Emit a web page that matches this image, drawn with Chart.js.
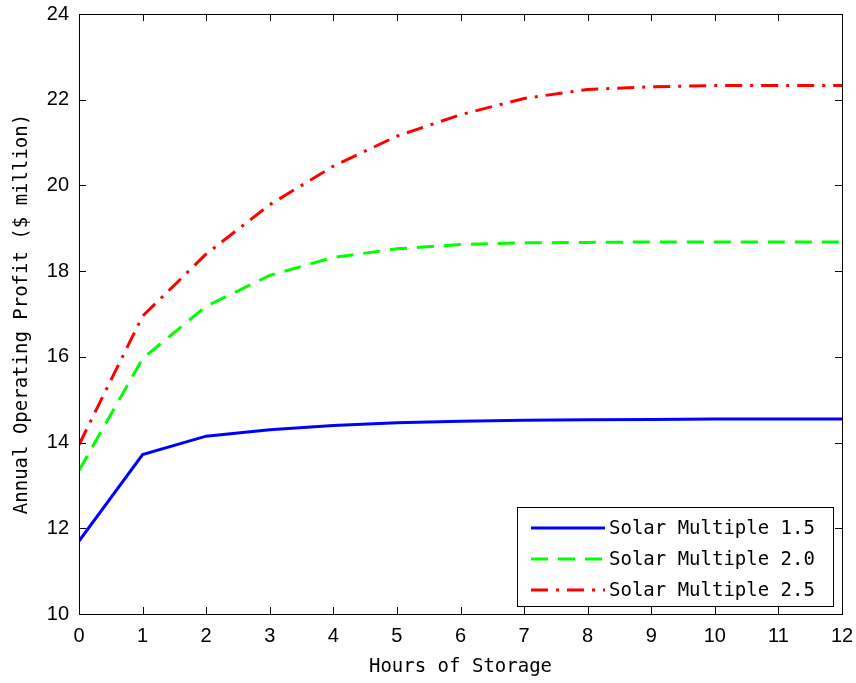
<!DOCTYPE html>
<html>
<head>
<meta charset="utf-8">
<script src="https://cdn.jsdelivr.net/npm/chart.js@4"></script>
<style>
  html, body { margin: 0; padding: 0; background: #fff; }
  canvas { display: block; }
</style>
</head>
<body>
<canvas id="chart" width="856" height="683"></canvas>
<script>
// data
const hours = [0, 1, 2, 3, 4, 5, 6, 7, 8, 9, 10, 11, 12];
const sm15 = [11.7, 13.72, 14.15, 14.3, 14.4, 14.46, 14.5, 14.52, 14.53, 14.54, 14.55, 14.55, 14.55];
const sm20 = [13.35, 15.96, 17.18, 17.9, 18.32, 18.52, 18.62, 18.66, 18.67, 18.68, 18.68, 18.68, 18.68];
const sm25 = [13.95, 16.95, 18.4, 19.55, 20.45, 21.15, 21.65, 22.03, 22.24, 22.3, 22.33, 22.33, 22.33];
const seriesNames = ["Solar Multiple 1.5", "Solar Multiple 2.0", "Solar Multiple 2.5"];
const yTicks = [10, 12, 14, 16, 18, 20, 22, 24];

const monoFont = "'DejaVu Sans Mono', 'Liberation Mono', monospace";
const tickFont = "'Liberation Sans', Arial, sans-serif";

const toPoints = arr => arr.map((v, i) => ({ x: hours[i], y: v }));

// box around the plot with inward ticks, and the boxed legend
const matlabFrame = {
    id: "matlabFrame",
    afterDatasetsDraw(chart) {
        const { ctx, chartArea: a, scales } = chart;
        ctx.save();
        ctx.strokeStyle = "#000";
        ctx.lineWidth = 1;
        ctx.strokeRect(a.left + 0.5, a.top + 0.5, a.right - a.left, a.bottom - a.top);
        const tl = 7;
        ctx.beginPath();
        hours.forEach(h => {
            const x = Math.round(scales.x.getPixelForValue(h)) + 0.5;
            ctx.moveTo(x, a.bottom); ctx.lineTo(x, a.bottom - tl);
            ctx.moveTo(x, a.top); ctx.lineTo(x, a.top + tl);
        });
        yTicks.forEach(t => {
            const y = Math.round(scales.y.getPixelForValue(t)) + 0.5;
            ctx.moveTo(a.left, y); ctx.lineTo(a.left + tl, y);
            ctx.moveTo(a.right, y); ctx.lineTo(a.right - tl, y);
        });
        ctx.stroke();

        // legend
        const bx = 517, by = 507, bw = 316, bh = 99;
        ctx.fillStyle = "#fff";
        ctx.fillRect(bx, by, bw, bh);
        ctx.strokeRect(bx + 0.5, by + 0.5, bw, bh);
        ctx.font = "19px " + monoFont;
        ctx.textBaseline = "middle";
        chart.data.datasets.forEach((ds, i) => {
            const y = by + 21 + i * 31;
            ctx.save();
            ctx.strokeStyle = ds.borderColor;
            ctx.lineWidth = ds.borderWidth;
            ctx.setLineDash(ds.borderDash || []);
            ctx.beginPath();
            ctx.moveTo(531, y); ctx.lineTo(605, y);
            ctx.stroke();
            ctx.restore();
            ctx.fillStyle = "#000";
            ctx.fillText(ds.label, 609, y + 1);
        });
        ctx.restore();
    }
};

new Chart(document.getElementById("chart"), {
    type: "line",
    data: {
        datasets: [
            { label: seriesNames[0], data: toPoints(sm15), borderColor: "#0000ff", borderWidth: 3, borderDash: [] },
            { label: seriesNames[1], data: toPoints(sm20), borderColor: "#00ff00", borderWidth: 3, borderDash: [17, 10] },
            { label: seriesNames[2], data: toPoints(sm25), borderColor: "#ff0000", borderWidth: 3, borderDash: [17, 8, 3, 8] }
        ]
    },
    options: {
        responsive: false,
        animation: false,
        events: [],
        elements: { point: { radius: 0 }, line: { tension: 0 } },
        layout: { padding: { left: 0, right: 14, top: 14, bottom: 0 } },
        plugins: { legend: { display: false }, tooltip: { enabled: false } },
        scales: {
            x: {
                type: "linear",
                min: 0,
                max: 12,
                afterFit: s => { s.height = 69; s.paddingLeft = 0; s.paddingRight = 0; },
                grid: { display: false, drawTicks: false },
                border: { display: false },
                ticks: { stepSize: 1, color: "#000", padding: 10, font: { family: tickFont, size: 20 } },
                title: {
                    display: true,
                    text: "Hours of Storage",
                    color: "#000",
                    font: { family: monoFont, size: 19 },
                    padding: { top: 0, bottom: 5 }
                }
            },
            y: {
                min: 10,
                max: 24,
                afterFit: s => { s.width = 79; s.paddingTop = 0; s.paddingBottom = 0; },
                grid: { display: false, drawTicks: false },
                border: { display: false },
                ticks: { stepSize: 2, color: "#000", padding: 10, font: { family: tickFont, size: 20 } },
                title: {
                    display: true,
                    text: "Annual Operating Profit ($ million)",
                    color: "#000",
                    font: { family: monoFont, size: 19 },
                    padding: { top: 11, bottom: 0 }
                }
            }
        }
    },
    plugins: [matlabFrame]
});
</script>
</body>
</html>
